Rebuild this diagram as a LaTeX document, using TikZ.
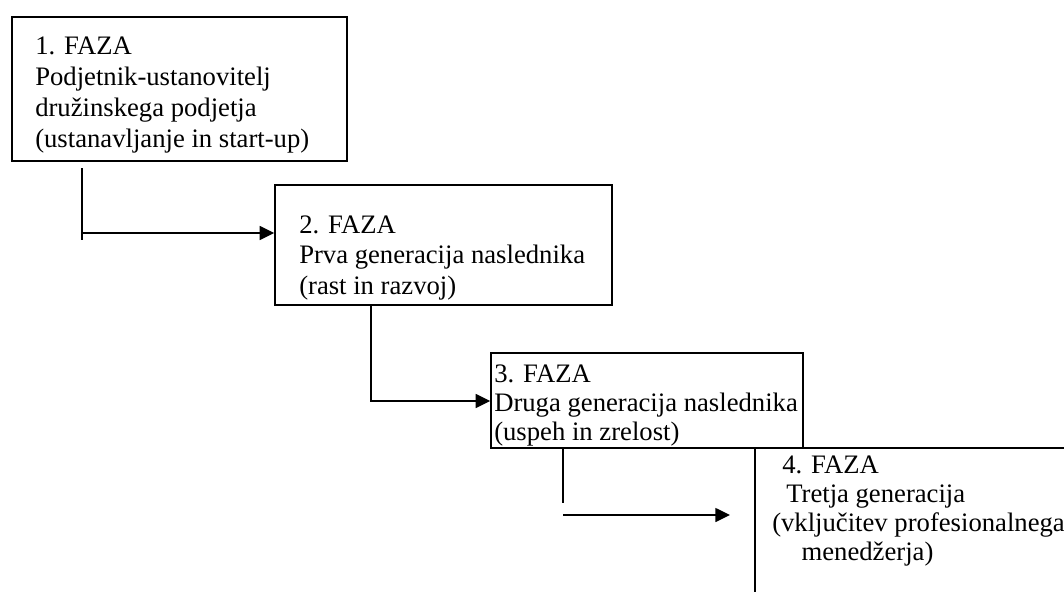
\documentclass[tikz,border=0pt]{standalone}
\usepackage{fontspec}
\setmainfont{Liberation Serif}
\usetikzlibrary{arrows.meta,fit}
% stacked, left-aligned lines with a fixed baseline distance;
% the box's baseline is that of the first line
\newcommand\phaselines[2]{\vtop{\baselineskip=#1\lineskiplimit=-100pt\lineskip=0pt\halign{##\hfil\cr#2\crcr}}}
\begin{document}
\begin{tikzpicture}[x=0.75pt,y=-0.75pt,
  box/.style={draw,line width=1.1pt,inner sep=0pt},
  phasetext/.style={anchor=base west,inner sep=0pt,font=\fontsize{20pt}{23pt}\selectfont},
  link/.style={line width=1.1pt},
  arr/.style={link,-{Triangle[length=11pt,width=10.5pt]}}]
\useasboundingbox (0,0) rectangle (1064,592);
\clip (0,0) rectangle (1064,592);

% phase boxes
\node[box,fit={(12,17) (347,161)}] (b1) {};
\node[box,fit={(275,185) (612,305)}] (b2) {};
\node[box,fit={(491,353) (803,448)}] (b3) {};
\node[box,fit={(755,448) (1100,640)}] (b4) {};

% phase texts
\node[phasetext] (t1) at (35,55) {\phaselines{23.2pt}{1. FAZA\cr
  Podjetnik-ustanovitelj\cr
  družinskega podjetja\cr
  (ustanavljanje in start-up)}};
\node[phasetext] (t2) at (299,233) {\phaselines{22.9pt}{2. FAZA\cr
  Prva generacija naslednika\cr
  (rast in razvoj)}};
\node[phasetext] (t3) at (494,382) {\phaselines{21.8pt}{3. FAZA\cr
  Druga generacija naslednika\cr
  (uspeh in zrelost)}};
\node[phasetext] (t4) at (772,473) {\phaselines{21.8pt}{\hspace*{7.5pt}4. FAZA\cr
  \hspace*{10.5pt}Tretja generacija\cr
  (vključitev profesionalnega\cr
  \hspace*{22pt}menedžerja)}};

% connectors
\coordinate (p1) at (82,168);
\coordinate (q1) at (82,240);
\coordinate (h1) at (82,233);
\draw[link] (p1) -- (q1);
\draw[arr] (h1) -- (h1 -| b2.west);

\coordinate (k2) at (371,401);
\draw[arr] (k2 |- b2.south) -- (k2) -- (k2 -| b3.west);

\coordinate (k3) at (563,503);
\draw[link] (k3 |- b3.south) -- (k3);
\coordinate (h3) at (563,515);
\coordinate (e3) at (730,515);
\draw[arr] (h3) -- (e3);
\end{tikzpicture}
\end{document}
